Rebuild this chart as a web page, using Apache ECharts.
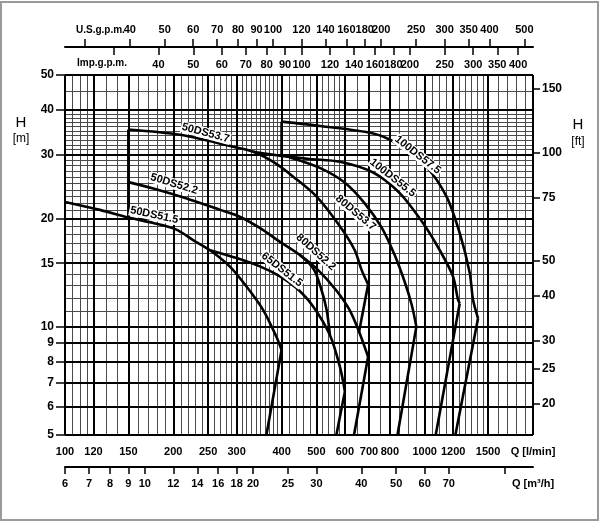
<!DOCTYPE html>
<html>
<head>
<meta charset="utf-8">
<script src="https://cdn.jsdelivr.net/npm/echarts@6.0.0/dist/echarts.min.js"></script>
<style>
  html, body { margin: 0; padding: 0; background: #fff; }
  #frame { position: absolute; left: 0; top: 1px; width: 595px; height: 516px; border: 2px solid #9a9a9a; }
  #chart { position: absolute; left: 0; top: 0; width: 600px; height: 522px; }
</style>
</head>
<body>
<div id="frame"></div>
<div id="chart"></div>
<script>
// axis ticks
var qLabels = [100, 120, 150, 200, 250, 300, 400, 500, 600, 700, 800, 1000, 1200, 1500];
var qMinor = [105, 110, 115, 130, 140, 160, 170, 180, 190, 210, 220, 230, 240, 260, 270, 280, 290,
  310, 320, 330, 340, 350, 360, 370, 380, 390, 420, 440, 460, 480, 520, 540, 560, 580,
  650, 750, 850, 900, 950, 1050, 1100, 1150, 1250, 1300, 1350, 1400, 1450, 1600, 1700, 1800, 1900];
var m3hTicks = [6, 7, 8, 9, 10, 12, 14, 16, 18, 20, 25, 30, 40, 50, 60, 70, 100];
var m3hLabels = [6, 7, 8, 9, 10, 12, 14, 16, 18, 20, 25, 30, 40, 50, 60, 70];
var usTicks = [30, 40, 50, 60, 70, 80, 90, 100, 120, 140, 160, 180, 200, 250, 300, 350, 400, 500];
var usLabels = [40, 50, 60, 70, 80, 90, 100, 120, 140, 160, 180, 200, 250, 300, 350, 400, 500];
var impTicks = [30, 40, 50, 60, 70, 80, 90, 100, 120, 140, 160, 180, 200, 250, 300, 350, 400];
var impLabels = [40, 50, 60, 70, 80, 90, 100, 120, 140, 160, 180, 200, 250, 300, 350, 400];
var hLabels = [5, 6, 7, 8, 9, 10, 15, 20, 30, 40, 50];
var hMinor = [11, 12, 13, 14, 16, 17, 18, 19, 21, 22, 23, 24, 25, 26, 27, 28, 29,
  31, 32, 33, 34, 35, 36, 37, 38, 39, 45];
var ftLabels = [20, 25, 30, 40, 50, 75, 100, 150];

// curves: [Q l/min, H m]
var c50_15 = [[100, 22.2], [125, 21.1], [150, 20.1], [176, 19.4], [204, 18.6], [227, 17.4], [253, 16.3],
  [287, 14.7], [320, 12.9], [356, 11.1], [387, 9.37], [400, 8.61]];
var t50_15 = [[400, 8.61], [363, 5]];
var c65_15 = [[253, 16.3], [300, 15.5], [348, 14.7], [396, 13.8], [440, 12.8], [489, 11.4], [545, 9.48],
  [581, 7.74], [600, 6.6]];
var t65_15 = [[600, 6.6], [568, 5]];
var c50_22 = [[150, 25.2], [176, 24.2], [218, 22.7], [270, 21.1], [306, 20.2], [348, 18.8], [396, 17.2],
  [450, 15.8], [492, 14.4], [517, 12.6], [534, 11.1], [545, 9.48]];
var c80_22 = [[450, 15.8], [504, 14.4], [568, 12.6], [619, 11.1], [657, 9.68], [696, 8.25]];
var t80_22 = [[696, 8.25], [636, 5]];
var c50_37 = [[150, 35.3], [209, 34.1], [293, 31.6], [334, 30.6], [383, 28.5], [431, 26.1], [500, 23.0],
  [581, 19.0], [639, 16.3], [667, 14.4], [696, 13.1]];
var t50_37 = [[696, 13.1], [657, 9.68]];
var c80_37 = [[422, 29.5], [511, 27.6], [600, 25.1], [681, 22.0], [760, 18.8], [825, 15.8], [880, 13.3],
  [920, 11.5], [948, 10.0]];
var t80_37 = [[948, 10.0], [840, 5]];
var c100_55 = [[334, 30.6], [400, 29.8], [479, 29.2], [581, 28.7], [719, 26.8], [852, 23.5], [989, 19.4],
  [1101, 16.3], [1198, 13.8], [1237, 11.9], [1251, 11.6]];
var t100_55 = [[1251, 11.6], [1073, 5]];
var c100_75 = [[400, 37.1], [511, 36.1], [719, 34.4], [834, 32.3], [1011, 27.8], [1149, 23.0], [1251, 18.2],
  [1334, 14.1], [1362, 11.9], [1407, 10.55]];
var t100_75 = [[1407, 10.55], [1217, 5]];
var edge50 = [[150, 35.3], [150, 20.1]];
var edge100 = [[400, 37.1], [400, 29.8]];

var tagNames = ['50DS53.7', '50DS52.2', '50DS51.5', '65DS51.5', '80DS52.2', '80DS53.7', '100DS55.5', '100DS57.5'];

// where the model names sit (Q, H, angle)
var tagPlace = [[246, 34.5, -15], [201, 24.9, -17], [177, 20.4, -12], [401, 14.4, -38],
  [498, 16.1, -42], [643, 20.7, -40], [815, 25.9, -38], [956, 30.0, -38]];

var FONT = "'Liberation Sans', Arial, sans-serif";
var LPM_US = 0.264172, LPM_IMP = 0.219969, LPM_M3H = 0.06, M_FT = 1 / 0.3048;

var chart = echarts.init(document.getElementById('chart'));

function num(v) { return String(Math.round(v)); }

function lbl(values, extra) {
  var o = { customValues: values, color: '#000', fontSize: 11, fontWeight: 'bold', fontFamily: FONT, formatter: num };
  for (var k in extra) o[k] = extra[k];
  return o;
}

function line(data, smooth) {
  return {
    type: 'line', data: data, symbol: 'none', smooth: smooth, silent: true, z: 5,
    lineStyle: { color: '#000', width: 2.6 }
  };
}

function grid(vals, hvals, width, color) {
  var d = vals.map(function (v) { return { xAxis: v }; })
    .concat(hvals.map(function (v) { return { yAxis: v }; }));
  return {
    type: 'line', data: [], silent: true, z: 1,
    markLine: {
      silent: true, symbol: ['none', 'none'], label: { show: false },
      lineStyle: { color: color, width: width, type: 'solid' }, data: d, animation: false
    }
  };
}

function txt(x, y, s, size, align, weight) {
  return {
    type: 'text', x: x, y: y,
    style: { text: s, font: (weight || 'normal') + ' ' + size + 'px ' + FONT, fill: '#000', align: align, verticalAlign: 'middle' }
  };
}

var option = {
  animation: false,
  grid: { left: 65, top: 75, width: 468, height: 360 },
  xAxis: [
    {
      type: 'log', min: 100, max: 2000, position: 'bottom',
      axisLine: { show: false }, axisTick: { show: false }, splitLine: { show: false },
      axisLabel: lbl(qLabels.concat([2000]), {
        margin: 11,
        formatter: function (v) { return Math.round(v) >= 2000 ? 'Q [l/min]' : num(v); }
      })
    },
    {
      type: 'log', min: 100 * LPM_M3H, max: 2000 * LPM_M3H, position: 'bottom', offset: 32,
      axisLine: { show: true, lineStyle: { color: '#000', width: 2 } },
      axisTick: { show: true, customValues: m3hTicks, length: 7, lineStyle: { color: '#000', width: 1.5 } },
      splitLine: { show: false },
      axisLabel: lbl(m3hLabels.concat([120]), {
        margin: 11,
        formatter: function (v) { return Math.round(v) >= 120 ? 'Q [m\u00b3/h]' : num(v); }
      })
    },
    {
      type: 'log', min: 100 * LPM_US, max: 2000 * LPM_US, position: 'top', offset: 28,
      axisLine: { show: true, lineStyle: { color: '#000', width: 2 } },
      axisTick: { show: true, customValues: usTicks, length: 8, lineStyle: { color: '#000', width: 1.5 } },
      splitLine: { show: false },
      axisLabel: lbl(usLabels, { margin: 12 })
    },
    {
      type: 'log', min: 100 * LPM_IMP, max: 2000 * LPM_IMP, position: 'top', offset: 28,
      axisLine: { show: false },
      axisTick: { show: true, inside: true, customValues: impTicks, length: 8, lineStyle: { color: '#000', width: 1.5 } },
      splitLine: { show: false },
      axisLabel: lbl(impLabels, { margin: 12, inside: true })
    }
  ],
  yAxis: [
    {
      type: 'log', min: 5, max: 50, position: 'left',
      axisLine: { show: false }, splitLine: { show: false },
      axisTick: { show: true, customValues: hLabels, length: 9, lineStyle: { color: '#000', width: 1.5 } },
      axisLabel: lbl(hLabels, { margin: 11, fontSize: 12 })
    },
    {
      type: 'log', min: 5 * M_FT, max: 50 * M_FT, position: 'right',
      axisLine: { show: false }, splitLine: { show: false },
      axisTick: { show: true, customValues: ftLabels, length: 7, lineStyle: { color: '#000', width: 1.5 } },
      axisLabel: lbl(ftLabels, { margin: 9, fontSize: 12 })
    }
  ],
  graphic: [
    txt(76, 30, 'U.S.g.p.m.', 10, 'left', 'bold'),
    txt(77, 63, 'Imp.g.p.m.', 10, 'left', 'bold'),
    txt(21, 123, 'H', 15, 'center'),
    txt(21, 139, '[m]', 12, 'center'),
    txt(578, 125, 'H', 15, 'center'),
    txt(578, 142, '[ft]', 12, 'center')
  ],
  series: [
    grid(qMinor, hMinor, 1, '#4a4a4a'),
    grid(qLabels.concat([2000]), hLabels, 2, '#000'),
    line(c50_15, 0.3), line(t50_15, false),
    line(c65_15, 0.3), line(t65_15, false),
    line(c50_22, 0.3),
    line(c80_22, 0.3), line(t80_22, false),
    line(c50_37, 0.3), line(t50_37, false),
    line(c80_37, 0.3), line(t80_37, false),
    line(c100_55, 0.3), line(t100_55, false),
    line(c100_75, 0.3), line(t100_75, false),
    line(edge50, false), line(edge100, false),
    {
      type: 'custom', silent: true, z: 20,
      data: tagPlace.map(function (p, i) { return [p[0], p[1], p[2], i]; }),
      renderItem: function (params, api) {
        var pt = api.coord([api.value(0), api.value(1)]);
        return {
          type: 'text', x: pt[0], y: pt[1], rotation: api.value(2) * Math.PI / 180,
          style: {
            text: tagNames[api.value(3)], fill: '#000', font: 'bold 11px ' + FONT,
            align: 'center', verticalAlign: 'middle', backgroundColor: '#fff', padding: [0, 1]
          }
        };
      }
    }
  ]
};
chart.setOption(option);
</script>
</body>
</html>
